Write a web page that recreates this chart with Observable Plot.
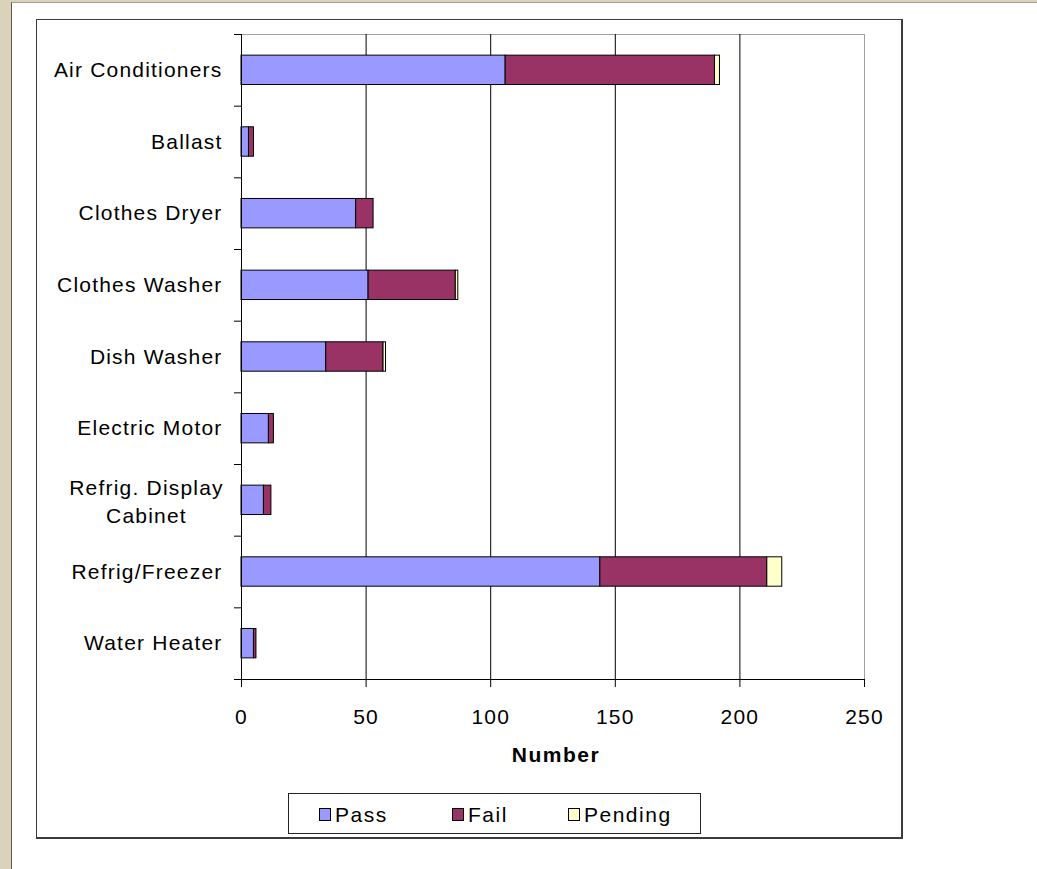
<!DOCTYPE html>
<html>
<head>
<meta charset="utf-8">
<script src="https://cdn.jsdelivr.net/npm/d3@7"></script>
<script src="https://cdn.jsdelivr.net/npm/@observablehq/plot@0.6"></script>
<style>
html,body{margin:0;padding:0;background:#fff;}
body{width:1037px;height:869px;position:relative;overflow:hidden;font-family:"Liberation Sans",Arial,sans-serif;color:#000;}
#beige{position:absolute;left:0;top:0;width:1037px;height:869px;background:#dbd2bb;}
#sheet{position:absolute;left:11px;top:2px;right:0;bottom:0;background:#fff;border-left:1px solid #5e584a;border-top:1px solid #a89e86;}
#chartbox{position:absolute;left:36px;top:19px;width:864px;height:817px;border-left:1px solid #3c3c3c;border-top:1px solid #3c3c3c;border-right:2px solid #3c3c3c;border-bottom:2px solid #3c3c3c;}
#plot{position:absolute;left:0;top:0;}
#xlabel{position:absolute;left:456px;top:744px;width:200px;text-align:center;font-weight:bold;font-size:21px;line-height:21px;letter-spacing:1.5px;}
#legend{position:absolute;left:288px;top:793px;width:411px;height:39px;border:1px solid #222;background:#fff;}
.item{position:absolute;top:0;height:39px;display:flex;align-items:center;padding-top:2px;box-sizing:border-box;font-size:21px;line-height:21px;letter-spacing:1.5px;}
.sw{display:inline-block;width:10px;height:11px;border:1px solid #000;margin-right:4px;}
</style>
</head>
<body>
<div id="beige"></div>
<div id="sheet"></div>
<div id="chartbox"></div>
<div id="plot"></div>
<div id="xlabel"></div>
<div id="legend"></div>
<script>
const categories = ["Air Conditioners","Ballast","Clothes Dryer","Clothes Washer","Dish Washer","Electric Motor","Refrig. Display\nCabinet","Refrig/Freezer","Water Heater"];
const pass    = [106, 3, 46, 51, 34, 11, 9, 144, 5];
const fail    = [84, 2, 7, 35, 23, 2, 3, 67, 1];
const pending = [2, 0, 0, 1, 1, 0, 0, 6, 0];
const statuses = ["Pass","Fail","Pending"];
const colors = ["#9999FF","#993366","#FFFFCC"];
const xTicks = [0, 50, 100, 150, 200, 250];
const xLabel = "Number";

const series = [pass, fail, pending];
const rows = [];
categories.forEach((c, i) => {
  series.forEach((arr, j) => {
    if (arr[i] > 0) rows.push({category: c, status: statuses[j], value: arr[i]});
  });
});

const W = 1037, H = 869, mL = 241, mR = 173, mT = 34, mB = 190;
const step = (H - mT - mB) / categories.length;
const multi = categories.filter(c => c.includes("\n"));

const chart = Plot.plot({
  width: W, height: H,
  marginLeft: mL, marginRight: mR, marginTop: mT, marginBottom: mB,
  style: {background: "transparent", fontFamily: '"Liberation Sans", Arial, sans-serif', fontSize: "21px", letterSpacing: "1.2px", color: "#000", overflow: "visible"},
  x: {domain: [xTicks[0], xTicks[xTicks.length - 1]]},
  y: {domain: categories, paddingInner: 0.59, paddingOuter: 0.295, round: false},
  color: {domain: statuses, range: colors},
  marks: [
    Plot.frame({stroke: "#a0a0a0"}),
    Plot.gridX(xTicks.slice(1, -1), {stroke: "#000", strokeOpacity: 1}),
    Plot.barX(rows, Plot.stackX({x: "value", y: "category", fill: "status", stroke: "#000", strokeWidth: 1})),
    Plot.ruleX([0], {stroke: "#000"}),
    Plot.frame({anchor: "bottom", stroke: "#000"}),
    Plot.axisX(xTicks, {tickSize: 8, tickPadding: 22, label: null, fontSize: 21}),
    Plot.axisY({tickSize: 0, tickPadding: 19, tickFormat: d => multi.includes(d) ? "" : d, label: null, fontSize: 21}),
    Plot.axisY({tickSize: 7, dy: -step / 2, tickFormat: () => "", label: null}),
    Plot.axisY([categories[categories.length - 1]], {tickSize: 7, dy: step / 2, tickFormat: () => "", label: null}),
    Plot.text(multi, {y: d => d, text: d => d, frameAnchor: "left", dx: -95, textAnchor: "middle", lineHeight: 1.29, fontSize: 21, fill: "#000"})
  ]
});
document.getElementById("plot").appendChild(chart);

document.getElementById("xlabel").textContent = xLabel;

const legendLeft = [30, 163, 279];
const legend = document.getElementById("legend");
statuses.forEach((s, i) => {
  const item = document.createElement("div");
  item.className = "item";
  item.style.left = legendLeft[i] + "px";
  const sw = document.createElement("span");
  sw.className = "sw";
  sw.style.background = colors[i];
  const t = document.createElement("span");
  t.textContent = s;
  item.appendChild(sw);
  item.appendChild(t);
  legend.appendChild(item);
});
</script>
</body>
</html>
